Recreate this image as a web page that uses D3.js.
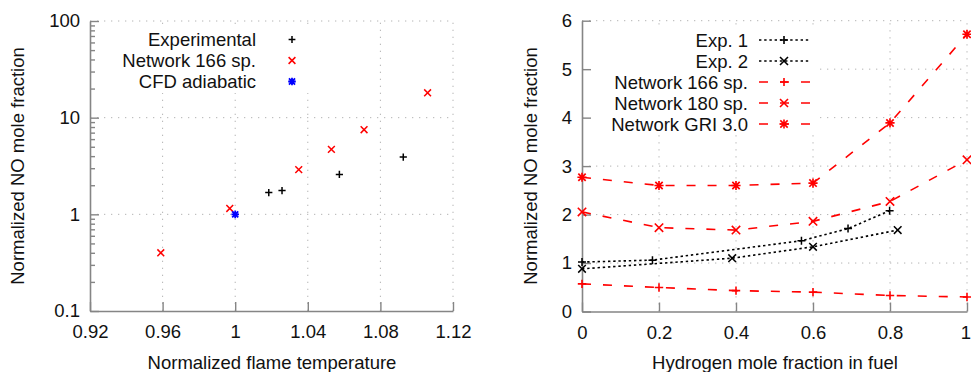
<!DOCTYPE html>
<html><head><meta charset="utf-8">
<script src="https://cdn.jsdelivr.net/npm/d3@7/dist/d3.min.js"></script>
<style>
html,body{margin:0;padding:0;background:#fff;overflow:hidden}
svg{display:block}
text{font-family:"Liberation Sans",Arial,sans-serif;fill:#111}
</style></head>
<body>
<script>
// ---------- Left chart data ----------
const expTemp = [1.0185, 1.0258, 1.0574, 1.0926];
const expNO = [1.68, 1.76, 2.59, 3.91];
const net166Temp = [0.959, 0.997, 1.035, 1.053, 1.071, 1.106];
const net166NO = [0.40, 1.15, 2.9, 4.7, 7.5, 18.1];
const cfdTemp = [1.0];
const cfdNO = [1.0];
const leftXTicks = [0.92, 0.96, 1.0, 1.04, 1.08, 1.12];
const leftXTickLabels = ["0.92", "0.96", "1", "1.04", "1.08", "1.12"];
const leftYTicks = [0.1, 1, 10, 100];
const leftYTickLabels = ["0.1", "1", "10", "100"];
const leftLegend = ["Experimental", "Network 166 sp.", "CFD adiabatic"];

// ---------- Right chart data ----------
const h2Frac = [0, 0.2, 0.4, 0.6, 0.8, 1.0];
const netw166 = [0.57, 0.495, 0.43, 0.40, 0.33, 0.30];
const netw180 = [2.055, 1.73, 1.68, 1.86, 2.27, 3.13];
const netwGRI = [2.77, 2.60, 2.60, 2.65, 3.89, 5.72];
const exp1H2 = [0, 0.183, 0.570, 0.691, 0.799];
const exp1NO = [1.02, 1.06, 1.46, 1.71, 2.08];
const exp2H2 = [0, 0.39, 0.60, 0.82];
const exp2NO = [0.88, 1.10, 1.335, 1.68];
const rightXTicks = [0, 0.2, 0.4, 0.6, 0.8, 1];
const rightXTickLabels = ["0", "0.2", "0.4", "0.6", "0.8", "1"];
const rightYTicks = [0, 1, 2, 3, 4, 5, 6];
const rightLegend = ["Exp. 1", "Exp. 2", "Network 166 sp.", "Network 180 sp.", "Network GRI 3.0"];

const W = 971, H = 372;
const FS = "18.5px";
const AXC = "#858585";
const GRIDC = "#b4b4b4";
const svg = d3.select("body").append("svg").attr("width", W).attr("height", H);

function markerPath(type, s) {
  const plus = `M${-s},0H${s}M0,${-s}V${s}`;
  const cross = `M${-s},${-s}L${s},${s}M${-s},${s}L${s},${-s}`;
  if (type === "plus") return plus;
  if (type === "cross") return cross;
  return plus + `M${-s*0.8},${-s*0.8}L${s*0.8},${s*0.8}M${-s*0.8},${s*0.8}L${s*0.8},${-s*0.8}`;
}
function drawMarkers(g, xs, ys, x, y, type, s, color, sw) {
  g.selectAll(null).data(xs.map((v, i) => [v, ys[i]])).enter().append("path")
    .attr("transform", d => `translate(${x(d[0])},${y(d[1])})`)
    .attr("d", markerPath(type, s)).attr("fill", "none")
    .attr("stroke", color).attr("stroke-width", sw);
}
function gridLines(g, x, y, xv, yv) {
  const [x0, x1] = x.range(), [y0, y1] = y.range();
  g.selectAll(null).data(xv).enter().append("line")
    .attr("x1", d => x(d)).attr("x2", d => x(d)).attr("y1", y0).attr("y2", y1)
    .attr("stroke", GRIDC).attr("stroke-width", 1).attr("stroke-dasharray", "1.3,5.7");
  g.selectAll(null).data(yv).enter().append("line")
    .attr("y1", d => y(d)).attr("y2", d => y(d)).attr("x1", x0).attr("x2", x1)
    .attr("stroke", GRIDC).attr("stroke-width", 1).attr("stroke-dasharray", "1.3,5.7");
}
function styleAxis(g) {
  g.select(".domain").attr("stroke", AXC).attr("stroke-width", 1.6);
  g.selectAll(".tick line").attr("stroke", AXC).attr("stroke-width", 1.4);
  g.selectAll(".tick text").style("font-size", FS).attr("fill", "#111")
    .style("font-family", '"Liberation Sans",Arial,sans-serif');
}

// ================= LEFT CHART =================
const xL = d3.scaleLinear().domain([0.92, 1.12]).range([90, 453]);
const yL = d3.scaleLog().domain([0.1, 100]).range([311, 21]);
const gL = svg.append("g");
gridLines(gL, xL, yL, leftXTicks.slice(1), leftYTicks.slice(1));
gL.append("rect").attr("x", 112).attr("y", 25).attr("width", 222).attr("height", 68).attr("fill", "#fff");

const minorL = [];
[0.1, 1, 10].forEach(dec => { for (let k = 2; k <= 9; k++) minorL.push(dec * k); });
gL.append("g").attr("transform", `translate(${xL.range()[0]},0)`)
  .call(d3.axisLeft(yL).tickValues(minorL).tickFormat("").tickSize(-5).tickSizeOuter(0))
  .call(g => { g.select(".domain").remove(); g.selectAll(".tick line").attr("stroke", AXC).attr("stroke-width", 1.4); });
gL.append("g").attr("transform", `translate(${xL.range()[0]},0)`)
  .call(d3.axisLeft(yL).tickValues(leftYTicks).tickFormat((d, i) => leftYTickLabels[i]).tickSize(-9).tickSizeOuter(0).tickPadding(10))
  .call(styleAxis);
gL.append("g").attr("transform", `translate(0,${yL.range()[0]})`)
  .call(d3.axisBottom(xL).tickValues(leftXTicks).tickFormat((d, i) => leftXTickLabels[i]).tickSize(-9).tickSizeOuter(0).tickPadding(14))
  .call(styleAxis);

drawMarkers(gL, expTemp, expNO, xL, yL, "plus", 3.6, "#000", 1.5);
drawMarkers(gL, net166Temp, net166NO, xL, yL, "cross", 3.4, "#ff0000", 1.5);
drawMarkers(gL, cfdTemp, cfdNO, xL, yL, "star", 3.8, "#0000ff", 1.8);

const legColorsL = ["#000", "#ff0000", "#0000ff"];
const legTypesL = ["plus", "cross", "star"];
leftLegend.forEach((t, i) => {
  const yy = 39.5 + i * 21;
  gL.append("text").attr("x", 256).attr("y", yy).attr("text-anchor", "end")
    .attr("dominant-baseline", "central").style("font-size", FS).text(t);
  gL.append("path").attr("transform", `translate(292,${yy})`).attr("d", markerPath(legTypesL[i], legTypesL[i] === "star" ? 3.8 : 3.4))
    .attr("fill", "none").attr("stroke", legColorsL[i]).attr("stroke-width", legTypesL[i] === "star" ? 1.8 : 1.5);
});
gL.append("text").attr("x", 272).attr("y", 362).attr("text-anchor", "middle")
  .attr("dominant-baseline", "central").style("font-size", FS).text("Normalized flame temperature");
gL.append("text").attr("transform", "translate(17,166) rotate(-90)").attr("text-anchor", "middle")
  .attr("dominant-baseline", "central").style("font-size", FS).text("Normalized NO mole fraction");

// ================= RIGHT CHART =================
const xR = d3.scaleLinear().domain([0, 1]).range([582, 967]);
const yR = d3.scaleLinear().domain([0, 6]).range([311.5, 20.7]);
const gR = svg.append("g");
gridLines(gR, xR, yR, rightXTicks.slice(1), rightYTicks.slice(1));
gR.append("rect").attr("x", 584).attr("y", 28).attr("width", 234).attr("height", 104).attr("fill", "#fff");

gR.append("g").attr("transform", `translate(${xR.range()[0]},0)`)
  .call(d3.axisLeft(yR).tickValues(rightYTicks).tickFormat(d3.format("d")).tickSize(-9).tickSizeOuter(0).tickPadding(10))
  .call(styleAxis);
gR.append("g").attr("transform", `translate(0,${yR.range()[0]})`)
  .call(d3.axisBottom(xR).tickValues(rightXTicks).tickFormat((d, i) => rightXTickLabels[i]).tickSize(-9).tickSizeOuter(0).tickPadding(14))
  .call(styleAxis)
  .call(g => g.selectAll(".tick text").filter(d => d === 1).attr("text-anchor", "end").attr("dx", "3.5"));

const lineR = d3.line().x(d => xR(d[0])).y(d => yR(d[1]));
function series(xs, ys, color, dash, type, s, sw) {
  gR.append("path").attr("d", lineR(xs.map((v, i) => [v, ys[i]])))
    .attr("fill", "none").attr("stroke", color).attr("stroke-width", 1.6).attr("stroke-dasharray", dash);
  drawMarkers(gR, xs, ys, xR, yR, type, s, color, sw);
}
const RED = "#ff0000", DASH = "9,12", DOT = "2.4,2.8";
series(h2Frac, netwGRI, RED, DASH, "star", 4.6, 1.7);
series(h2Frac, netw180, RED, DASH, "cross", 4.2, 1.6);
series(h2Frac, netw166, RED, DASH, "plus", 4.2, 1.6);
series(exp1H2, exp1NO, "#000", DOT, "plus", 4, 1.5);
series(exp2H2, exp2NO, "#000", DOT, "cross", 3.8, 1.5);

const legColorsR = ["#000", "#000", RED, RED, RED];
const legTypesR = ["plus", "cross", "plus", "cross", "star"];
const legDashR = [DOT, DOT, DASH, DASH, DASH];
rightLegend.forEach((t, i) => {
  const yy = 40 + i * 21;
  gR.append("text").attr("x", 748).attr("y", yy).attr("text-anchor", "end")
    .attr("dominant-baseline", "central").style("font-size", FS).text(t);
  gR.append("line").attr("x1", 759).attr("x2", 810).attr("y1", yy).attr("y2", yy)
    .attr("stroke", legColorsR[i]).attr("stroke-width", 1.6).attr("stroke-dasharray", legDashR[i]);
  gR.append("path").attr("transform", `translate(784,${yy})`)
    .attr("d", markerPath(legTypesR[i], legTypesR[i] === "star" ? 4.6 : 4))
    .attr("fill", "none").attr("stroke", legColorsR[i]).attr("stroke-width", 1.6);
});
gR.append("text").attr("x", 775).attr("y", 362).attr("text-anchor", "middle")
  .attr("dominant-baseline", "central").style("font-size", FS).text("Hydrogen mole fraction in fuel");
gR.append("text").attr("transform", "translate(530,166) rotate(-90)").attr("text-anchor", "middle")
  .attr("dominant-baseline", "central").style("font-size", FS).text("Normalized NO mole fraction");
</script>
</body></html>
